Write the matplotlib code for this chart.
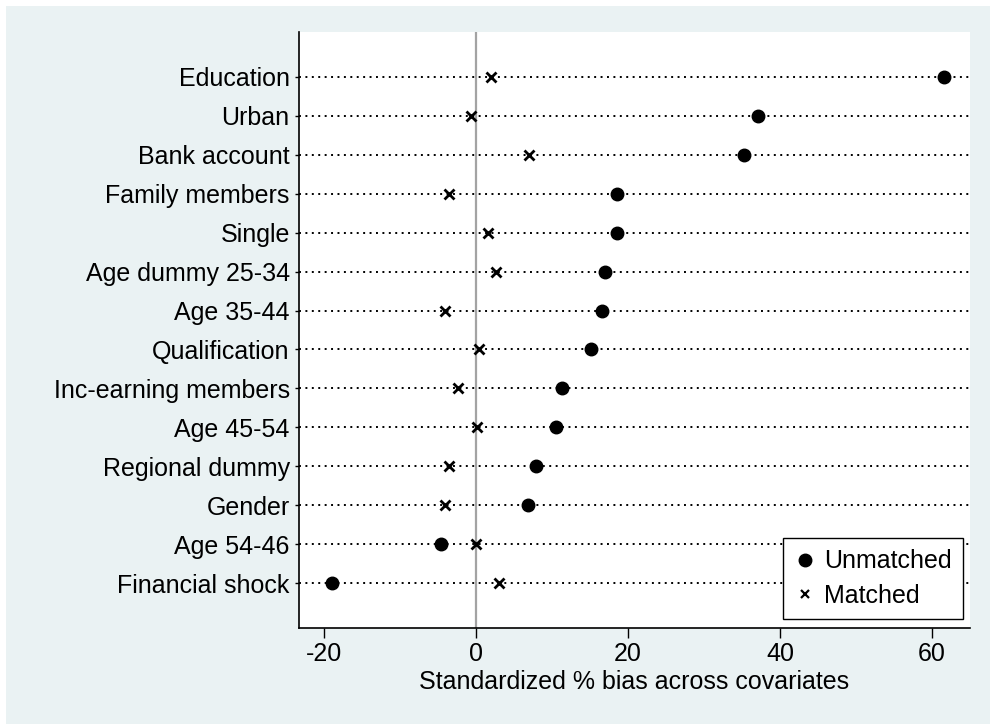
import matplotlib
matplotlib.use("Agg")
import matplotlib.pyplot as plt
import numpy as np
from matplotlib.patches import Rectangle

# Standardized % bias per covariate, before and after matching
covariates = ["Education", "Urban", "Bank account", "Family members", "Single",
              "Age dummy 25-34", "Age 35-44", "Qualification", "Inc-earning members",
              "Age 45-54", "Regional dummy", "Gender", "Age 54-46", "Financial shock"]
unmatched = [61.6, 37.1, 35.3, 18.6, 18.5, 17.0, 16.6, 15.2, 11.3, 10.5, 7.9, 6.8, -4.6, -18.9]
matched = [2.0, -0.6, 7.0, -3.5, 1.6, 2.7, -4.1, 0.4, -2.4, 0.2, -3.5, -4.0, 0.0, 3.0]
xticks = [-20, 0, 20, 40, 60]

plt.rcParams["font.family"] = ["Liberation Sans", "DejaVu Sans"]
FS = 18
BG = "#eaf2f3"

fig = plt.figure(figsize=(9.9, 7.24), dpi=100)
W, H = 990, 724
# graph region background with thin white margin at left/top
fig.patches.append(Rectangle((6 / W, 0), 1, (H - 6) / H, transform=fig.transFigure,
                             facecolor=BG, edgecolor="none", zorder=-10))

left, right, top, bottom = 298.75, 970, 32, 628
ax = fig.add_axes([left / W, (H - bottom) / H, (right - left) / W, (bottom - top) / H])
ax.set_facecolor("white")

n = len(covariates)
ypos = np.arange(n, 0, -1)

ax.axvline(0, color="#a3a3a3", linewidth=1.6, zorder=1)
for y in ypos:
    ax.axhline(y, color="black", linewidth=1.4, linestyle=(0, (1, 2.3)), zorder=2)

ax.plot(unmatched, ypos, linestyle="none", marker="o", markersize=9,
        color="black", label="Unmatched", zorder=3)
ax.plot(matched, ypos, linestyle="none", marker="x", markersize=6.8,
        markeredgewidth=2.0, color="black", label="Matched", zorder=3)

ax.set_xlim(-23.3, 65.0)
ax.set_ylim(1 - 1.156, n + 1.156)
ax.set_xticks(xticks)
ax.set_xticklabels([str(t) for t in xticks])
ax.set_yticks(ypos)
ax.set_yticklabels(covariates)
ax.tick_params(axis="x", length=7.2, width=1, pad=3, labelsize=FS)
ax.tick_params(axis="y", length=3, width=1, pad=3.5, labelsize=FS)

for s in ["top", "right"]:
    ax.spines[s].set_visible(False)
for s in ["left", "bottom"]:
    ax.spines[s].set_linewidth(1.2)

ax.set_xlabel("Standardized % bias across covariates", fontsize=FS, labelpad=3)

leg = ax.legend(loc="lower right", bbox_to_anchor=(0.9896, 0.0151), borderaxespad=0,
                fontsize=FS, frameon=True, fancybox=False, edgecolor="black",
                framealpha=1, numpoints=1, handlelength=0.9, handletextpad=0.3,
                labelspacing=0.42, borderpad=0.45)
leg.get_frame().set_linewidth(1.0)
# legend crosses drawn a bit lighter than the plotted ones
leg.legend_handles[1].set_markersize(5.5)
leg.legend_handles[1].set_markeredgewidth(1.6)

fig.savefig("out.png", dpi=100)
